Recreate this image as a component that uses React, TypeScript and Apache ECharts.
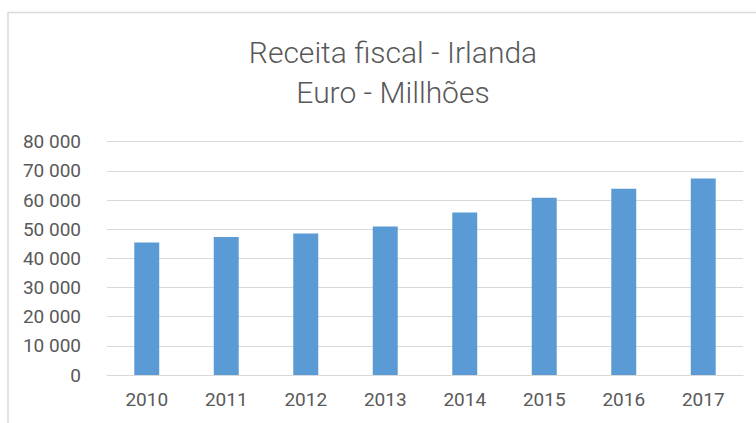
import React, { useEffect, useRef } from "react";
import * as echarts from "echarts";

const titleLines = ["Receita fiscal - Irlanda", "Euro - Millhões"];
const years = ["2010", "2011", "2012", "2013", "2014", "2015", "2016", "2017"];
const revenue = [45460, 47280, 48540, 50940, 55740, 60740, 63830, 67390];
const yMin = 0;
const yMax = 80000;
const yStep = 10000;

function fmt(v: number): string {
  return String(Math.round(v)).replace(/\B(?=(\d{3})+(?!\d))/g, " ");
}

export default function App() {
  const ref = useRef<HTMLDivElement>(null);
  useEffect(() => {
    if (!ref.current) return;
    const chart = echarts.init(ref.current, undefined, { renderer: "svg" });
    chart.setOption({
      animation: false,
      backgroundColor: "#ffffff",
      graphic: [
        {
          type: "rect",
          shape: { x: 8, y: 12.5, width: 800, height: 500 },
          style: { fill: "none", stroke: "#d9d9d9", lineWidth: 1.5 },
          silent: true,
        },
      ],
      title: {
        text: titleLines.join("\n"),
        left: 388,
        top: 27,
        textAlign: "center",
        textStyle: {
          fontFamily: "Roboto",
          fontWeight: 300,
          fontSize: 30,
          lineHeight: 40.6,
          color: "#595959",
        },
      },
      grid: { left: 107, right: 13, top: 141.7, bottom: 48, containLabel: false },
      xAxis: {
        type: "category",
        data: years,
        axisLine: { lineStyle: { color: "#d9d9d9", width: 1 } },
        axisTick: { show: false },
        axisLabel: {
          fontFamily: "Roboto",
          fontSize: 19,
          color: "#595959",
          margin: 15,
        },
      },
      yAxis: {
        type: "value",
        min: yMin,
        max: yMax,
        interval: yStep,
        axisLine: { show: false },
        axisTick: { show: false },
        splitLine: { lineStyle: { color: "#d9d9d9", width: 1 } },
        axisLabel: {
          fontFamily: "Roboto",
          fontSize: 19,
          color: "#595959",
          margin: 26,
          formatter: (v: number) => fmt(v),
        },
      },
      series: [
        {
          type: "bar",
          data: revenue,
          barWidth: "31.4%",
          itemStyle: { color: "#5b9bd5" },
        },
      ],
    });
    return () => chart.dispose();
  }, []);
  return <div ref={ref} style={{ width: 756, height: 423, position: "absolute", left: 0, top: 0 }} />;
}
